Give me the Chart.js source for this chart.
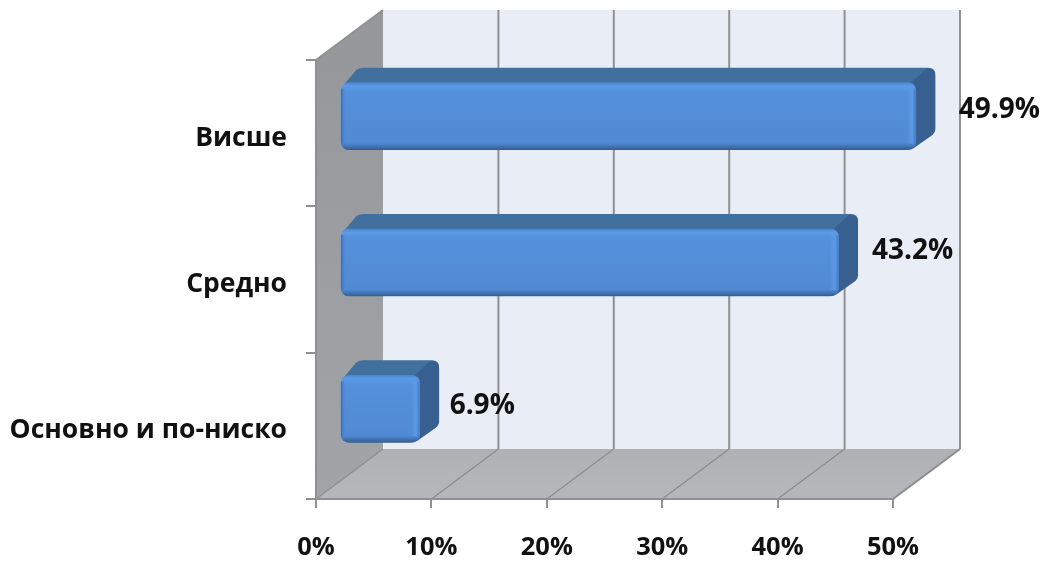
<!DOCTYPE html>
<html><head><meta charset="utf-8">
<style>html,body{margin:0;padding:0;background:#fff}#w{width:1046px;height:561px}</style>
<script src="https://cdn.jsdelivr.net/npm/chart.js@4"></script></head>
<body><div id="w"><canvas id="c" width="1046" height="561"></canvas></div>
<script>
const categories = ["Висше", "Средно", "Основно и по-ниско"];
const values = [49.9, 43.2, 6.9];
const valueLabels = ["49.9%", "43.2%", "6.9%"];
const axisMax = 50;
const axisStep = 10;

const FONT = '"Open Sans", sans-serif';
const DEPTH = {x: 67, y: -50};
const BAR_SHIFT = {x: 24, y: -17};
const BAR_DEPTH = {x: 19.5, y: -15};
const LABEL_NUDGE = [{x: 67, y: -23}, {x: 57.5, y: -28.5}, {x: 54, y: -20}];

function poly(ctx, pts, fill, stroke, lw) {
  ctx.beginPath();
  pts.forEach((p, i) => i ? ctx.lineTo(p[0], p[1]) : ctx.moveTo(p[0], p[1]));
  ctx.closePath();
  if (fill) { ctx.fillStyle = fill; ctx.fill(); }
  if (stroke) { ctx.strokeStyle = stroke; ctx.lineWidth = lw || 1; ctx.stroke(); }
}

const walls = {
  id: 'walls',
  beforeDraw(chart) {
    const {ctx, chartArea: a, scales: {x}} = chart;
    const dx = DEPTH.x, dy = DEPTH.y;
    ctx.save();
    poly(ctx, [[a.left + dx, a.top + dy], [a.right + dx, a.top + dy], [a.right + dx, a.bottom + dy], [a.left + dx, a.bottom + dy]], '#e9edf6');
    const lg = ctx.createLinearGradient(0, a.top, 0, a.bottom);
    lg.addColorStop(0, '#96989b'); lg.addColorStop(1, '#a2a4a7');
    poly(ctx, [[a.left, a.top], [a.left + dx, a.top + dy], [a.left + dx, a.bottom + dy], [a.left, a.bottom]], lg);
    const fg = ctx.createLinearGradient(0, a.bottom + dy, 0, a.bottom);
    fg.addColorStop(0, '#afb1b4'); fg.addColorStop(1, '#b5b7ba');
    poly(ctx, [[a.left, a.bottom], [a.left + dx, a.bottom + dy], [a.right + dx, a.bottom + dy], [a.right, a.bottom]], fg);
    ctx.strokeStyle = '#8e9092'; ctx.lineWidth = 2;
    ctx.beginPath(); ctx.moveTo(a.left, a.top); ctx.lineTo(a.left + dx, a.top + dy); ctx.stroke();
    for (let v = 0; v <= axisMax; v += axisStep) {
      const px = x.getPixelForValue(v);
      if (v > 0) {
        ctx.strokeStyle = '#8f9092'; ctx.lineWidth = 2;
        ctx.beginPath(); ctx.moveTo(px + dx, a.top + dy); ctx.lineTo(px + dx, a.bottom + dy); ctx.stroke();
      }
      ctx.strokeStyle = '#8a8c8e'; ctx.lineWidth = v === axisMax ? 2 : 1.2;
      ctx.beginPath(); ctx.moveTo(px, a.bottom); ctx.lineTo(px + dx, a.bottom + dy); ctx.stroke();
    }
    ctx.restore();
  },
  beforeDatasetsDraw(chart) {
    const {ctx} = chart;
    const bdx = BAR_DEPTH.x, bdy = BAR_DEPTH.y;
    ctx.save();
    ctx.translate(BAR_SHIFT.x, BAR_SHIFT.y);
    chart.getDatasetMeta(0).data.forEach(el => {
      const p = el.getProps(['x', 'y', 'base', 'height'], true);
      const t = p.y - p.height / 2, b = p.y + p.height / 2, l = p.base, r = p.x;
      ctx.beginPath();
      ctx.moveTo(l + 2, t + 3);
      ctx.lineTo(l + bdx - 4, t + bdy + 2);
      ctx.quadraticCurveTo(l + bdx - 1, t + bdy, l + bdx + 3, t + bdy);
      ctx.lineTo(r + bdx - 7, t + bdy);
      ctx.quadraticCurveTo(r + bdx, t + bdy, r + bdx, t + bdy + 7);
      ctx.lineTo(r, t + 6);
      ctx.closePath();
      ctx.fillStyle = '#41709f'; ctx.fill();
      ctx.beginPath();
      ctx.moveTo(r - 6, t + 1);
      ctx.lineTo(r + bdx - 9, t + bdy + 1);
      ctx.quadraticCurveTo(r + bdx, t + bdy, r + bdx, t + bdy + 8);
      ctx.lineTo(r + bdx, b + bdy - 6);
      ctx.quadraticCurveTo(r + bdx, b + bdy - 2, r + bdx - 4, b + bdy + 1);
      ctx.lineTo(r - 3, b - 1);
      ctx.closePath();
      ctx.fillStyle = '#375f90'; ctx.fill();
    });
    ctx.restore();
    ctx.save();
    ctx.translate(BAR_SHIFT.x, BAR_SHIFT.y);
  },
  afterDatasetsDraw(chart) {
    const {ctx, scales: {x, y}} = chart;
    chart.getDatasetMeta(0).data.forEach(el => {
      const p = el.getProps(['x', 'y', 'base', 'height'], true);
      const t = p.y - p.height / 2;
      const g = ctx.createLinearGradient(p.x - 9, 0, p.x, 0);
      g.addColorStop(0, 'rgba(92,155,232,0)');
      g.addColorStop(.6, 'rgba(92,155,232,.9)');
      g.addColorStop(1, 'rgba(70,120,190,.9)');
      ctx.fillStyle = g;
      ctx.fillRect(p.x - 9, t + 6, 9, p.height - 12);
      const e = ctx.createLinearGradient(p.base, 0, p.base + 4, 0);
      e.addColorStop(0, 'rgba(55,100,165,.8)');
      e.addColorStop(1, 'rgba(70,120,190,0)');
      ctx.fillStyle = e;
      ctx.fillRect(p.base, t + 6, 4, p.height - 12);
    });
    ctx.restore();
    ctx.save();
    ctx.font = '700 28px ' + FONT;
    ctx.fillStyle = '#111';
    ctx.textAlign = 'left';
    ctx.textBaseline = 'middle';
    values.forEach((v, i) => {
      ctx.fillText(valueLabels[i], x.getPixelForValue(v) + LABEL_NUDGE[i].x, y.getPixelForValue(i) + LABEL_NUDGE[i].y);
    });
    ctx.restore();
  }
};

new Chart(document.getElementById('c'), {
  type: 'bar',
  data: {
    labels: categories,
    datasets: [{
      data: values,
      clip: false,
      barThickness: 67,
      borderWidth: 0,
      borderRadius: 8,
      borderSkipped: false,
      backgroundColor(ctx) {
        const chart = ctx.chart;
        if (!chart.chartArea || ctx.dataIndex === undefined) return '#528bd6';
        const c = chart.scales.y.getPixelForValue(ctx.dataIndex);
        const t = c - 33.5, h = 67;
        const g = chart.ctx.createLinearGradient(0, t, 0, t + h);
        g.addColorStop(0, '#4f86cc');
        g.addColorStop(.05, '#5b9be8');
        g.addColorStop(.14, '#5490dc');
        g.addColorStop(.9, '#518ad4');
        g.addColorStop(.96, '#3f70ad');
        g.addColorStop(1, '#345f95');
        return g;
      }
    }]
  },
  options: {
    indexAxis: 'y',
    responsive: false,
    animation: false,
    events: [],
    layout: {padding: {left: 0, right: 153, top: 60, bottom: 0}},
    plugins: {legend: {display: false}, tooltip: {enabled: false}},
    scales: {
      x: {
        min: 0, max: axisMax,
        afterFit(s) { s.height = 62; },
        border: {display: true, color: '#8f9092', width: 2},
        grid: {drawOnChartArea: false, drawTicks: true, tickLength: 9, color: '#8f9092', lineWidth: 2},
        ticks: {
          stepSize: axisStep, maxRotation: 0, padding: 24, color: '#111',
          font: {family: FONT, size: 25.5, weight: '700'},
          callback: v => v + '%'
        }
      },
      y: {
        afterFit(s) { s.width = 316; },
        border: {display: true, color: '#8f9092', width: 2},
        grid: {drawOnChartArea: false, drawTicks: true, tickLength: 10, color: '#8f9092', lineWidth: 2},
        ticks: {
          padding: 19, labelOffset: 5, color: '#111', autoSkip: false,
          font: {family: FONT, size: 26.5, weight: '700'}
        }
      }
    }
  },
  plugins: [walls]
});
</script></body></html>
